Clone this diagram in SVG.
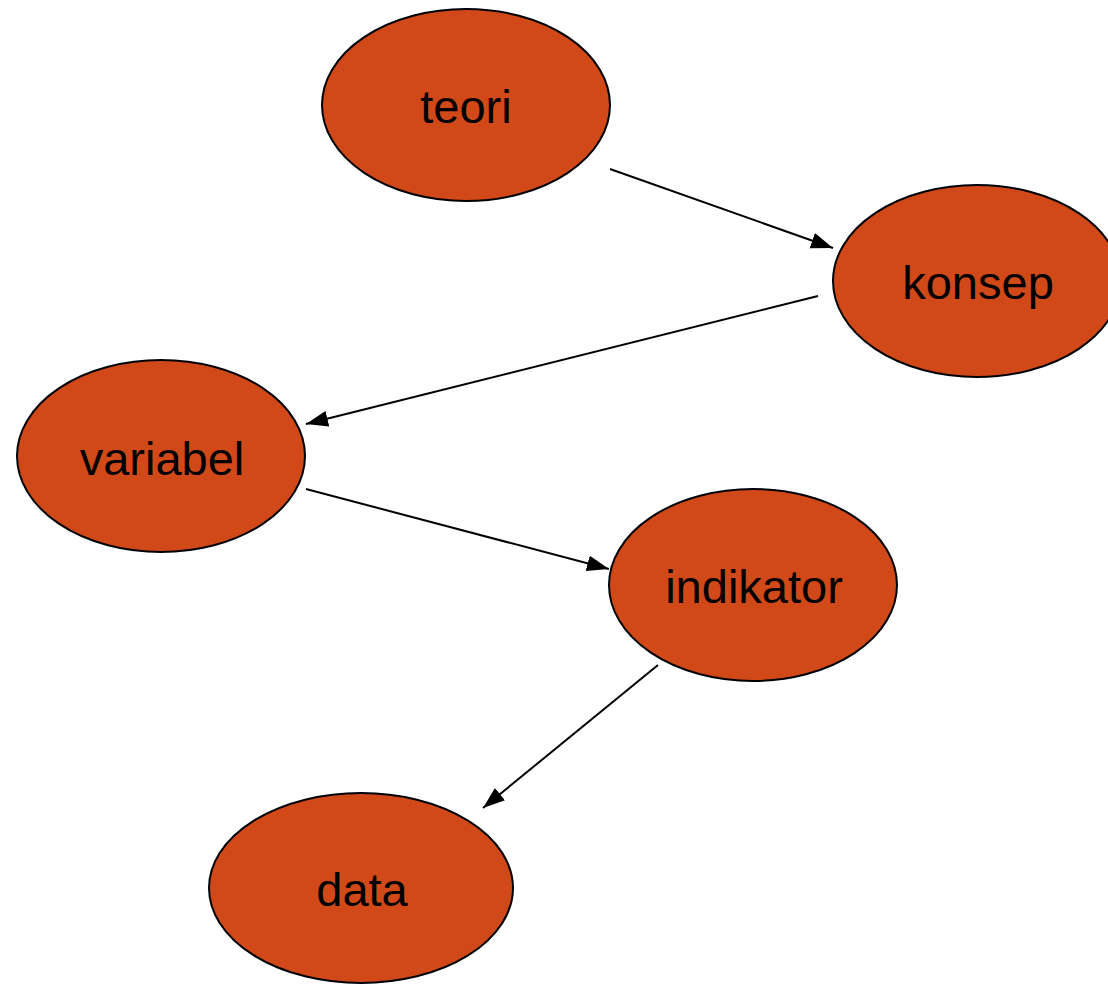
<svg xmlns="http://www.w3.org/2000/svg" width="1108" height="984" viewBox="0 0 1108 984">
<style>
.node ellipse{fill:#D14918;stroke:#000;stroke-width:2}
.node text{font-family:"Liberation Sans",Arial,sans-serif;font-size:47px;fill:#000;text-anchor:middle}
.edge{stroke:#000;stroke-width:2;fill:none;marker-end:url(#ah)}
</style>
<defs>
<marker id="ah" markerUnits="userSpaceOnUse" markerWidth="24" markerHeight="18" refX="22" refY="8" orient="auto">
<path d="M0,0 L22,8 L0,16 Z" fill="#000"/>
</marker>
</defs>
<rect width="1108" height="984" fill="#fff"/>
<g id="connectors">
<line class="edge" x1="610" y1="169" x2="833" y2="248"/>
<line class="edge" x1="818" y1="296" x2="306" y2="424"/>
<line class="edge" x1="306" y1="489" x2="609" y2="569"/>
<line class="edge" x1="658" y1="665" x2="483" y2="808"/>
</g>
<g id="teori" class="node"><ellipse cx="466" cy="105" rx="144" ry="96"/><text x="466" y="123">teori</text></g>
<g id="konsep" class="node"><ellipse cx="977" cy="281" rx="144" ry="96"/><text x="978" y="299">konsep</text></g>
<g id="variabel" class="node"><ellipse cx="161" cy="456" rx="144" ry="96"/><text x="162" y="475">variabel</text></g>
<g id="indikator" class="node"><ellipse cx="753" cy="585" rx="144" ry="96"/><text x="754" y="603">indikator</text></g>
<g id="data" class="node"><ellipse cx="361" cy="888" rx="152" ry="95"/><text x="362" y="906">data</text></g>
</svg>
